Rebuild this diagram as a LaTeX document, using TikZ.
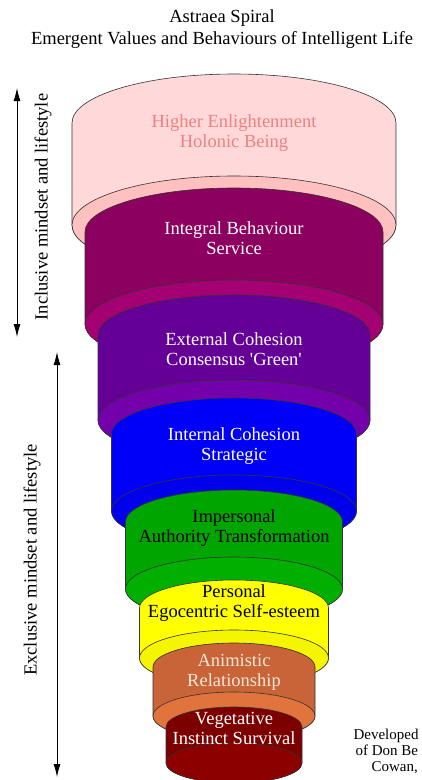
\documentclass[tikz,border=0pt]{standalone}
\usepackage{fontspec}
\setmainfont{Liberation Serif}
\usetikzlibrary{arrows.meta}

\definecolor{higherbody}{RGB}{255,217,217}
\definecolor{higherface}{RGB}{255,192,192}
\definecolor{highertext}{RGB}{240,128,128}
\definecolor{integralbody}{RGB}{140,0,95}
\definecolor{integralface}{RGB}{165,0,115}
\definecolor{externalbody}{RGB}{100,0,150}
\definecolor{externalface}{RGB}{115,0,170}
\definecolor{internalbody}{RGB}{0,0,250}
\definecolor{internalface}{RGB}{0,0,235}
\definecolor{impersonalbody}{RGB}{0,165,0}
\definecolor{impersonalface}{RGB}{0,175,0}
\definecolor{personalbody}{RGB}{255,255,0}
\definecolor{personalface}{RGB}{245,245,0}
\definecolor{animisticbody}{RGB}{200,100,55}
\definecolor{animisticface}{RGB}{225,115,60}
\definecolor{animistictext}{RGB}{245,232,216}
\definecolor{vegetativebody}{RGB}{125,0,0}
\definecolor{vegetativeface}{RGB}{140,0,0}

% cylinder: centre x, top y, bottom y, x radius, y radius, side colour, base colour
\newcommand{\tier}[7]{%
  \filldraw[fill=#6,draw=black!80,line width=0.6pt] (#1-#4,-#2)
    arc[start angle=180,end angle=0,x radius=#4,y radius=#5]
    -- (#1+#4,-#3) arc[start angle=0,end angle=-180,x radius=#4,y radius=#5] -- cycle;
  \filldraw[fill=#7,draw=black!80,line width=0.6pt] (#1,-#3) ellipse[x radius=#4,y radius=#5];
}

\begin{document}
\begin{tikzpicture}[x=1pt,y=1pt,
    tiertext/.style={align=center,font=\fontsize{18.5}{20}\selectfont},
    sidetext/.style={rotate=90,font=\fontsize{18.5}{20}\selectfont},
    credit/.style={anchor=base west,font=\fontsize{15}{16}\selectfont},
    span/.style={line width=0.9pt,{Latex[length=13pt,width=7pt]}-{Latex[length=13pt,width=7pt]}}]
	\useasboundingbox (0,0) rectangle (422,-780);

	\node[align=center,font=\fontsize{18.5}{22}\selectfont] (title) at (222,-29)
		{Astraea Spiral\\Emergent Values and Behaviours of Intelligent Life};

	\tier{234}{123}{225}{162}{49}{higherbody}{higherface}
	\tier{234}{232}{324}{149}{44}{integralbody}{integralface}
	\tier{234}{335}{420}{136}{40}{externalbody}{externalface}
	\tier{234}{434}{511}{122.5}{36}{internalbody}{internalface}
	\tier{234}{522}{589}{108.5}{32}{impersonalbody}{impersonalface}
	\tier{234}{608}{658}{94.5}{28}{personalbody}{personalface}
	\tier{234}{667}{716}{81}{24}{animisticbody}{animisticface}
	\tier{234}{727}{763}{68}{20}{vegetativebody}{vegetativeface}

	\node[tiertext,text=highertext] (higher) at (234,-133) {Higher Enlightenment\\Holonic Being};
	\node[tiertext,text=white] (integral) at (234,-238) {Integral Behaviour\\Service};
	\node[tiertext,text=white] (external) at (234,-349) {External Cohesion\\Consensus \textquotesingle Green\textquotesingle};
	\node[tiertext,text=white] (internal) at (234,-446) {Internal Cohesion\\Strategic};
	\node[tiertext,text=black] (impersonal) at (234,-528) {Impersonal\\Authority Transformation};
	\node[tiertext,text=black] (personal) at (234,-603) {Personal\\Egocentric Self-esteem};
	\node[tiertext,text=animistictext] (animistic) at (234,-672) {Animistic\\Relationship};
	\node[tiertext,text=white] (vegetative) at (234,-728) {Vegetative\\Instinct Survival};

	\coordinate (inctop) at (17,-88);
	\coordinate (incbot) at (17,-337);
	\coordinate (exctop) at (57,-352);
	\coordinate (excbot) at (57,-777);
	\draw[span] (inctop) -- (incbot);
	\draw[span] (exctop) -- (excbot);
	\node[sidetext] (inclusive) at (43,-207) {Inclusive mindset and lifestyle};
	\node[sidetext] (exclusive) at (32,-560) {Exclusive mindset and lifestyle};

	\node[credit] (devA) at (350,-739) {Developed};
	\node[credit] (devB) at (352,-755) {of Don Be};
	\node[credit] (devC) at (368,-771) {Cowan,};
\end{tikzpicture}
\end{document}
